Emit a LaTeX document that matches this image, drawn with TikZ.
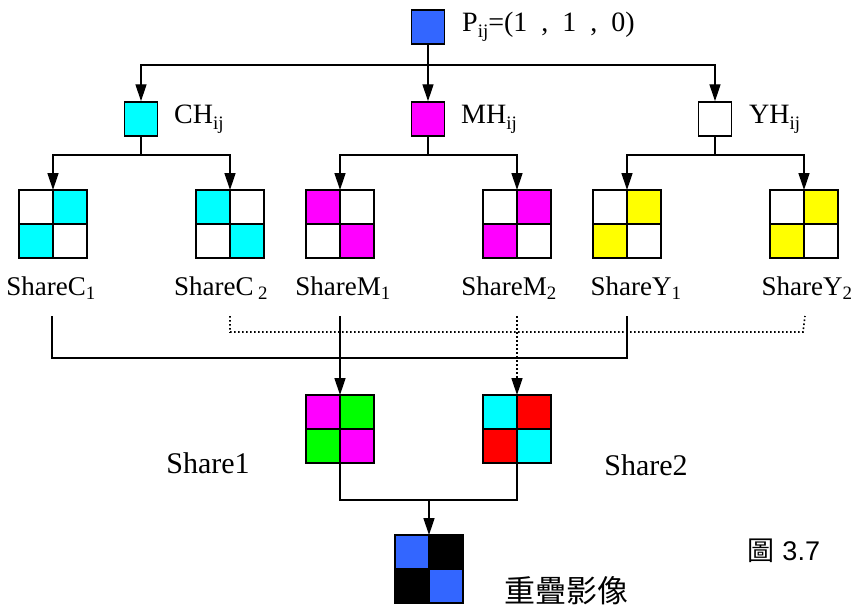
\documentclass[tikz,border=0pt]{standalone}
\usepackage{fontspec}
\setmainfont{Liberation Serif}
\newfontfamily\cjkfont{Noto Sans CJK TC}
\newfontfamily\arialfont{Liberation Sans}
\usetikzlibrary{arrows.meta}
\definecolor{pblue}{HTML}{3366FF}
\definecolor{ccyan}{HTML}{00FFFF}
\definecolor{cmag}{HTML}{FF00FF}
\definecolor{cyel}{HTML}{FFFF00}
\definecolor{cgreen}{HTML}{00FF00}
\definecolor{cred}{HTML}{FF0000}
\tikzset{
  sq/.style={draw=black, line width=1.5pt, minimum width=33pt, minimum height=34pt, inner sep=0pt},
  gridline/.style={draw=black, line width=1.5pt},
  conn/.style={line width=1.4pt},
  arr/.style={conn, -{Triangle[length=17pt,width=11pt]}},
  dotconn/.style={line width=1.6pt, dash pattern=on 1.6pt off 2.4pt},
  toplbl/.style={font=\fontsize{28}{32}\selectfont, inner sep=0pt},
  lbl/.style={font=\fontsize{27}{30}\selectfont, inner sep=0pt},
  big/.style={font=\fontsize{30}{34}\selectfont, inner sep=0pt},
}
\newcommand\mysub[1]{\raisebox{-0.22em}{\fontsize{19}{22}\selectfont #1}}
\newcommand\mygrid[6]{%
  \node[minimum size=68pt, inner sep=0pt, outer sep=0pt] (#1) at (#2) {};
  \fill[#3] (#1.north west) rectangle (#1.center);
  \fill[#4] (#1.north) rectangle (#1.east);
  \fill[#5] (#1.west) rectangle (#1.south);
  \fill[#6] (#1.center) rectangle (#1.south east);
  \draw[gridline] (#1.north west) rectangle (#1.south east) (#1.north) -- (#1.south) (#1.west) -- (#1.east);
}
\begin{document}
\begin{tikzpicture}[x=1pt,y=-1pt]
\useasboundingbox (0,0) rectangle (851,611);
% top
\node[sq, fill=pblue] (P) at (428,27) {};
\node[toplbl, anchor=west] (Pt) at (462,27) {P\mysub{ij}=(1\ \ ,\ \ 1\ \ ,\ \ 0)};
\node[sq, fill=ccyan] (CH) at (141,119) {};
\node[toplbl, anchor=west] (CHt) at (174,119) {CH\mysub{ij}};
\node[sq, fill=cmag] (MH) at (428,119) {};
\node[toplbl, anchor=west] (MHt) at (461,119) {MH\mysub{ij}};
\node[sq, fill=white] (YH) at (715,119) {};
\node[toplbl, anchor=west] (YHt) at (749,119) {YH\mysub{ij}};
\coordinate (t0) at (428,65);
\draw[arr] (P) -- (MH);
\draw[arr] (t0) -| (CH);
\draw[arr] (t0) -| (YH);
% shares
\mygrid{C1}{53,224}{white}{ccyan}{ccyan}{white}
\mygrid{C2}{230,224}{ccyan}{white}{white}{ccyan}
\mygrid{M1}{340,224}{cmag}{white}{white}{cmag}
\mygrid{M2}{517,224}{white}{cmag}{cmag}{white}
\mygrid{Y1}{627,224}{white}{cyel}{cyel}{white}
\mygrid{Y2}{804,224}{white}{cyel}{cyel}{white}
\coordinate (tc) at (141,155);
\coordinate (tm) at (428,155);
\coordinate (ty) at (715,155);
\draw[conn] (CH) -- (tc);
\draw[conn] (MH) -- (tm);
\draw[conn] (YH) -- (ty);
\draw[arr] (tc) -| (C1);
\draw[arr] (tc) -| (C2);
\draw[arr] (tm) -| (M1);
\draw[arr] (tm) -| (M2);
\draw[arr] (ty) -| (Y1);
\draw[arr] (ty) -| (Y2);
% labels
\node[lbl] (lC1) at (51,288) {ShareC\textsubscript{1}};
\node[lbl] (lC2) at (221,288) {ShareC\,\textsubscript{2}};
\node[lbl] (lM1) at (343,288) {ShareM\textsubscript{1}};
\node[lbl] (lM2) at (509,288) {ShareM\textsubscript{2}};
\node[lbl] (lY1) at (636,288) {ShareY\textsubscript{1}};
\node[lbl] (lY2) at (807,288) {ShareY\textsubscript{2}};
% combine
\mygrid{S1}{340,429}{cmag}{cgreen}{cgreen}{cmag}
\mygrid{S2}{517,429}{ccyan}{cred}{cred}{ccyan}
\node[big] (lS1) at (208,463) {Share1};
\node[big] (lS2) at (646,465) {Share2};
\coordinate (a1) at (52,316);
\coordinate (a2) at (627,316);
\coordinate (am) at (340,316);
\coordinate (b1) at (230,316);
\coordinate (b2) at (805,316);
\coordinate (bm) at (517,316);
\draw[conn] (a1) |- (627,358) -- (a2);
\draw[arr] (am) -- (S1);
\draw[dotconn] (b1) |- (803,332) -- (b2);
\draw[dotconn, -{Triangle[length=17pt,width=11pt]}] (bm) -- (S2);
% result
\mygrid{R}{429,569}{pblue}{black}{black}{pblue}
\coordinate (t2) at (429,500);
\draw[conn] (S1) |- (t2) -| (S2);
\draw[arr] (t2) -- (R);
\node[font=\cjkfont\fontsize{31}{34}\selectfont, inner sep=0pt] (res) at (566,591) {重疊影像};
\node[font=\arialfont\fontsize{27}{30}\selectfont, inner sep=0pt] (fig) at (784,551) {{\cjkfont 圖} 3.7};
\end{tikzpicture}
\end{document}
